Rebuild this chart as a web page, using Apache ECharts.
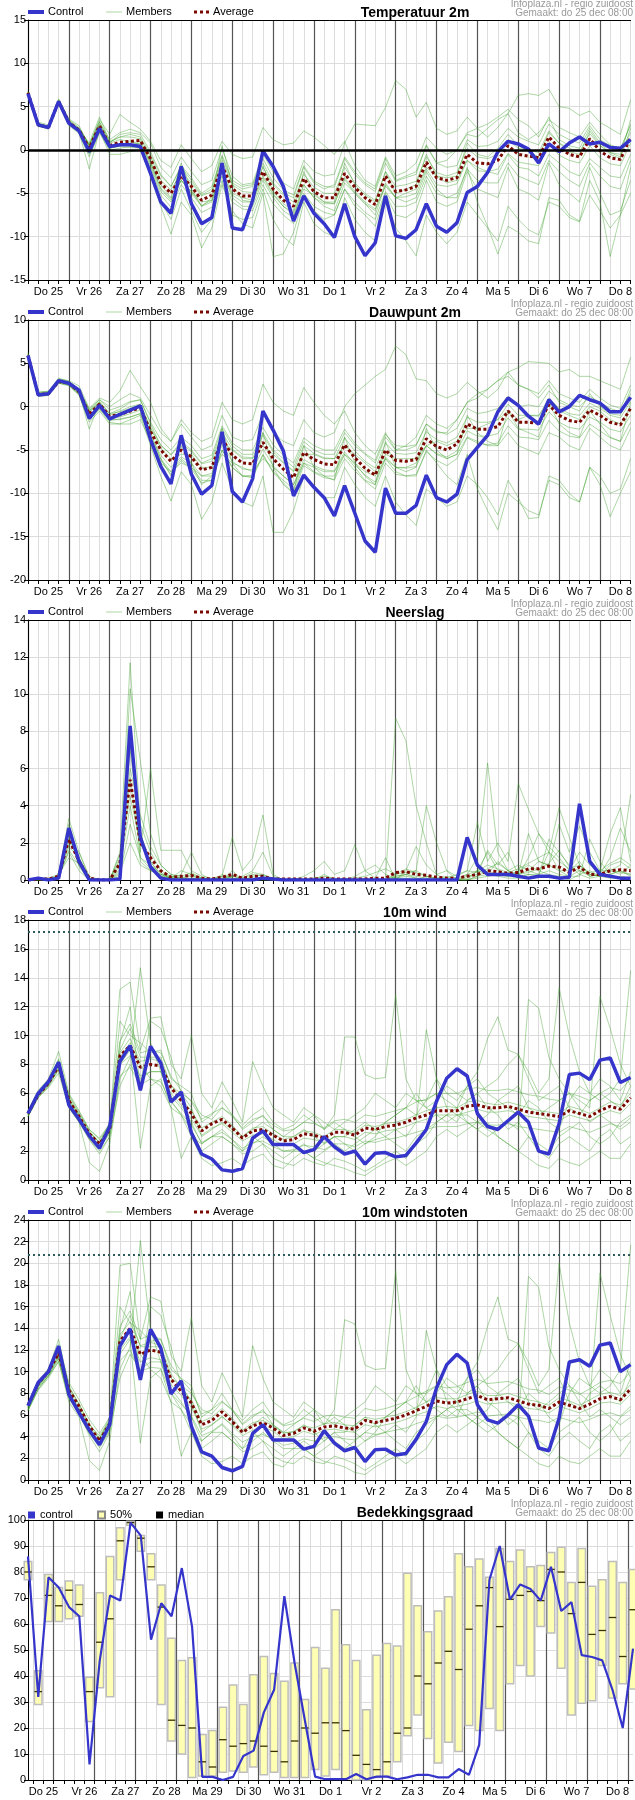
<!DOCTYPE html>
<html>
<head>
<meta charset="utf-8">
<script src="https://cdn.jsdelivr.net/npm/echarts@6.0.0/dist/echarts.min.js"></script>
<style>
html, body { margin: 0; padding: 0; background: #fff; }
#chart { width: 635px; height: 1800px; }
</style>
</head>
<body>
<div id="chart"></div>
<script>
// tick labels / categories
var days = ['Do 25', 'Vr 26', 'Za 27', 'Zo 28', 'Ma 29', 'Di 30', 'Wo 31', 'Do 1', 'Vr 2', 'Za 3', 'Zo 4', 'Ma 5', 'Di 6', 'Wo 7', 'Do 8'];
var steps = ['00', '06', '12', '18'];

// Temperatuur 2m
var tempControl = [6.5,2.9,2.6,5.6,3.1,2.2,-0.2,2.5,0.4,0.6,0.6,0.4,-2.7,-6.0,-7.3,-1.9,-6.2,-8.5,-7.8,-1.5,-9.0,-9.2,-5.8,-0.1,-1.9,-4.2,-8.2,-5.3,-7.3,-8.5,-10.1,-6.2,-10.0,-12.2,-10.7,-5.3,-9.9,-10.2,-9.2,-6.2,-8.8,-9.5,-8.4,-4.9,-4.2,-2.6,-0.2,1.0,0.7,0.1,-1.5,0.7,-0.2,0.8,1.5,0.7,0.9,0.3,0.2,1.2];
var tempAverage = [6.6,2.9,2.6,5.6,3.2,2.3,0.2,2.8,0.5,0.9,1.0,1.1,-1.0,-3.8,-5.0,-3.0,-4.2,-5.8,-5.2,-1.8,-4.5,-5.3,-5.3,-2.5,-4.5,-5.8,-6.5,-3.3,-4.8,-5.5,-5.5,-2.7,-4.3,-5.5,-6.3,-3.0,-4.8,-4.6,-4.2,-1.4,-3.2,-3.5,-3.2,-0.5,-1.5,-1.6,-1.2,0.5,-0.5,-0.7,-0.9,1.5,0.2,-0.5,-0.8,1.3,-0.1,-0.9,-1.1,1.5];
var tempMembers = [
  [6.8,3.1,2.7,5.8,3.5,2.6,0.6,3.2,1.2,2.0,2.4,2.0,0.8,-2.0,-3.2,-0.8,-2.5,-4.0,-3.5,0.2,-3.0,-4.0,-3.8,-0.5,-2.5,-3.8,-4.5,-1.2,-2.5,-3.0,-2.8,0.8,3.0,2.9,2.8,4.9,8.0,7.0,3.8,5.5,2.5,1.8,2.2,3.8,2.5,1.5,2.6,4.2,2.0,1.2,2.0,3.5,2.6,2.0,1.5,3.2,1.8,0.6,0.2,2.8],
  [6.4,2.8,2.4,5.3,2.8,1.9,-0.8,2.0,0.0,0.2,0.4,0.3,-2.5,-6.0,-8.0,-4.5,-7.0,-9.5,-8.0,-3.5,-7.5,-8.0,-7.8,-4.5,-8.0,-10.0,-11.0,-6.0,-8.5,-9.5,-10.0,-5.5,-8.0,-9.5,-10.5,-6.0,-9.0,-10.5,-12.2,-7.5,-9.5,-10.8,-9.5,-6.0,-7.5,-9.0,-10.5,-6.5,-8.0,-9.2,-9.8,-6.0,-6.5,-7.8,-8.3,-5.2,-7.0,-9.0,-7.5,-5.0],
  [6.7,3.2,2.9,5.9,3.6,2.8,0.5,3.5,1.8,4.1,3.2,2.4,1.0,-1.2,-2.0,0.6,-1.0,-2.5,-1.8,1.0,-0.5,-1.0,-0.8,2.6,1.2,0.6,0.8,2.2,1.5,0.5,-0.5,1.0,-1.8,-3.5,-4.2,-0.8,-3.0,-2.5,-1.5,1.5,0.2,-0.5,0.0,2.0,2.5,3.0,3.8,4.7,3.5,2.8,1.5,3.8,1.2,0.5,0.2,2.5,0.8,-0.3,-0.8,3.5],
  [6.5,2.7,2.5,5.5,3.0,2.0,-2.2,2.2,-0.5,-0.5,-0.2,0.0,-3.0,-6.5,-9.7,-6.0,-7.5,-11.3,-9.0,-4.0,-7.0,-8.5,-9.0,-5.0,-12.3,-12.0,-9.5,-5.5,-7.0,-8.0,-7.5,-4.5,-6.5,-7.5,-8.8,-5.0,-7.5,-7.8,-7.0,-3.5,-6.0,-6.5,-6.0,-2.5,-4.5,-5.0,-5.5,-2.0,-4.5,-5.0,-5.8,-1.5,-4.0,-5.0,-6.0,-2.0,-5.0,-7.5,-7.0,-3.5],
  [6.6,3.0,2.7,5.7,3.3,2.4,0.8,3.8,1.0,1.5,1.8,1.5,-0.5,-3.0,-4.2,-2.0,-3.5,-5.2,-4.5,-0.8,-3.8,-4.5,-4.2,-1.5,-3.8,-5.0,-5.5,-2.0,-3.8,-4.5,-4.0,-0.8,-2.5,-3.8,-4.5,-1.0,-3.5,-3.0,-2.5,0.5,-1.5,-1.2,0.0,1.8,1.5,2.5,3.5,4.2,6.3,6.5,6.3,7.0,5.0,4.8,4.0,4.5,3.2,2.5,1.8,5.8],
  [6.4,2.8,2.5,5.4,3.0,2.1,-0.5,2.4,0.2,0.5,0.6,0.8,-1.5,-4.5,-5.8,-3.5,-5.0,-6.5,-6.0,-2.5,-5.5,-6.5,-6.5,-3.5,-5.5,-7.0,-7.8,-4.0,-5.5,-6.5,-7.0,-3.8,-5.0,-6.2,-7.5,-4.0,-5.5,-6.0,-5.5,-2.5,-4.5,-5.5,-5.5,-2.0,-6.0,-8.8,-12.0,-8.8,-9.5,-10.5,-10.8,-5.5,-5.8,-7.5,-8.2,-3.5,-6.0,-12.3,-7.5,-2.0],
  [6.6,2.9,2.6,5.6,3.1,2.2,0.0,2.6,0.4,0.6,0.8,1.0,-1.2,-4.0,-5.5,-1.5,-4.5,-6.5,-5.5,0.5,-4.0,-5.8,-6.0,-1.8,-4.8,-6.2,-7.0,-2.5,-5.0,-6.0,-6.0,-1.5,-4.0,-5.2,-6.0,-2.5,-5.0,-4.5,-4.0,-0.5,-3.0,-3.2,-3.0,0.8,-0.5,-0.8,0.2,1.8,0.5,-0.2,-0.8,2.0,0.8,-0.2,-0.5,2.2,0.6,-0.5,-1.0,2.5],
  [6.7,3.0,2.6,5.6,3.2,2.3,0.3,2.9,0.8,1.2,1.0,0.6,-1.8,-4.8,-6.0,-3.5,-4.8,-6.0,-5.8,-2.0,-5.0,-5.5,-5.8,-3.0,-5.0,-6.5,-7.5,-4.5,-5.2,-6.0,-6.2,-3.2,-4.8,-6.0,-6.8,-4.2,-5.5,-5.0,-4.5,-2.0,-3.0,-3.8,-3.5,-1.2,-2.0,-2.5,-2.8,-0.5,-2.0,-2.2,-3.0,-0.5,-1.5,-2.5,-3.0,-1.0,-2.0,-3.0,-3.2,-0.5],
  [6.6,3.0,2.7,5.7,3.4,2.5,0.5,3.0,0.9,1.5,1.5,1.3,-0.8,-3.5,-4.6,-2.6,-3.8,-5.3,-4.8,-1.2,-4.0,-4.8,-4.9,-2.0,-4.0,-5.2,-6.0,-2.8,-4.3,-5.0,-5.0,-2.0,-3.8,-5.0,-5.8,-2.5,-4.2,-4.0,-3.6,-0.8,-2.6,-3.0,-2.6,0.2,-0.8,-1.0,-0.5,1.2,0.2,0.0,-0.3,2.2,0.8,0.2,-0.2,1.9,0.5,-0.3,-0.5,2.0],
  [6.5,2.8,2.5,5.5,3.0,2.1,-0.3,2.4,0.2,0.5,0.6,0.7,-1.5,-4.4,-5.6,-3.5,-4.8,-6.4,-5.8,-2.5,-5.2,-6.0,-6.0,-3.2,-5.2,-6.5,-7.2,-4.0,-5.5,-6.2,-6.2,-3.4,-5.0,-6.2,-7.0,-3.8,-5.5,-5.4,-5.0,-2.2,-4.0,-4.2,-3.9,-1.2,-2.4,-2.5,-2.2,-0.4,-1.4,-1.6,-1.8,0.6,-0.6,-1.2,-1.5,0.5,-0.9,-1.6,-1.8,0.8],
  [6.7,3.0,2.7,5.6,3.3,2.4,0.6,3.3,0.8,1.8,2.0,1.8,-0.2,-2.8,-4.2,-1.8,-3.2,-5.0,-4.2,-0.6,-3.5,-4.2,-4.0,-1.0,-3.2,-4.6,-5.2,-1.8,-3.6,-4.2,-4.3,-1.0,-2.8,-4.0,-4.8,-1.5,-3.6,-3.2,-2.8,0.6,-1.5,-2.0,-1.8,1.2,0.4,0.5,1.0,2.5,1.5,1.0,0.6,3.0,1.8,1.2,0.8,2.8,1.2,0.5,0.0,3.0],
  [6.5,2.8,2.5,5.5,3.0,2.2,0.0,2.6,0.3,0.4,0.3,0.2,-2.0,-5.2,-6.6,-4.0,-5.5,-7.2,-6.6,-3.0,-6.0,-6.8,-7.0,-4.0,-6.2,-7.5,-8.5,-5.0,-6.5,-7.2,-7.5,-4.5,-6.0,-7.2,-8.0,-4.8,-6.5,-6.5,-6.0,-3.0,-5.0,-5.5,-5.0,-2.2,-3.5,-3.8,-3.8,-1.5,-3.0,-3.5,-4.0,-1.2,-2.5,-3.5,-4.2,-1.5,-3.0,-4.2,-4.5,-1.2]
];

// Dauwpunt 2m
var dewControl = [5.9,1.35,1.5,3.0,2.7,1.9,-1.35,0.15,-1.4,-0.9,-0.4,0.1,-3.8,-6.9,-8.9,-3.3,-7.8,-10.1,-9.1,-2.9,-9.8,-11.0,-8.3,-0.5,-2.7,-5.1,-10.3,-7.9,-9.3,-10.5,-12.6,-9.1,-12.3,-15.5,-16.8,-9.4,-12.3,-12.3,-11.4,-7.9,-10.5,-11.0,-10.1,-6.1,-4.7,-3.3,-0.6,1.0,0.15,-1.1,-2.0,0.8,-0.6,0.0,1.3,0.8,0.4,-0.6,-0.6,1.1];
var dewAverage = [5.9,1.4,1.5,2.9,2.7,1.7,-0.9,0.3,-1.1,-0.9,-0.5,-0.1,-2.9,-5.0,-6.3,-5.0,-5.8,-7.3,-7.0,-3.7,-5.6,-6.5,-6.6,-4.1,-6.0,-7.2,-8.2,-5.3,-6.1,-6.6,-6.7,-4.4,-5.9,-7.1,-7.9,-5.0,-6.2,-6.3,-6.1,-3.7,-4.6,-5.0,-4.3,-2.0,-2.6,-2.6,-2.3,-0.5,-1.8,-1.8,-1.9,0.2,-1.0,-1.6,-1.8,-0.4,-1.0,-1.8,-2.1,-0.2];
var dewMembers = [
  [6.3,1.8,1.7,3.2,3.0,2.4,-0.2,1.0,0.5,1.8,4.2,2.3,0.5,-2.5,-4.0,-2.0,-3.5,-5.0,-4.5,-1.0,-3.5,-4.0,-3.8,-0.8,-3.0,-4.0,-4.5,-1.5,-3.0,-3.5,-3.0,0.0,1.5,2.5,3.5,4.3,7.0,6.0,3.2,3.0,1.5,1.0,1.5,2.8,1.8,1.0,2.0,4.0,2.5,2.0,1.5,3.0,1.5,1.0,0.5,2.0,1.0,0.2,-0.2,2.5],
  [5.7,1.2,1.3,2.7,2.4,1.3,-1.8,-0.5,-2.0,-2.0,-1.5,-1.0,-4.5,-8.0,-10.9,-7.5,-9.0,-13.0,-11.0,-6.5,-9.5,-11.0,-11.5,-8.0,-14.5,-14.5,-12.0,-8.0,-9.5,-10.5,-10.5,-7.0,-9.0,-10.5,-11.5,-8.0,-11.0,-12.5,-13.7,-9.5,-10.5,-11.5,-11.0,-8.0,-9.0,-10.5,-12.5,-8.5,-10.5,-12.9,-12.8,-8.0,-8.5,-10.0,-11.0,-7.0,-9.0,-12.7,-10.0,-7.5],
  [6.0,1.6,1.8,3.3,2.9,2.0,-0.5,0.8,0.0,0.8,1.5,1.0,-1.0,-3.0,-4.0,-1.5,-3.0,-4.0,-3.5,0.5,-1.5,-2.0,-1.5,2.6,0.5,-0.5,-1.0,2.2,0.5,-1.0,-2.0,-0.5,-3.0,-4.5,-5.5,-3.0,-5.0,-4.5,-3.5,-1.0,-2.0,-2.5,-1.5,0.5,1.5,2.0,3.0,3.5,2.5,2.0,1.0,2.5,0.5,0.0,-0.5,1.5,0.0,-0.8,-1.0,2.0],
  [5.9,1.5,1.5,3.0,2.8,1.8,-0.7,0.6,-0.8,-0.3,0.5,0.8,-2.0,-4.5,-5.5,-4.0,-5.0,-6.5,-6.0,-2.5,-4.5,-5.5,-5.5,-3.0,-5.0,-6.0,-7.0,-4.0,-5.0,-5.5,-5.5,-3.0,-4.5,-5.5,-6.5,-3.5,-5.0,-5.0,-4.5,-2.0,-3.0,-3.0,-1.5,0.5,1.0,2.0,3.0,4.0,4.5,5.2,5.1,5.0,4.0,4.3,3.5,3.5,3.0,2.5,2.0,5.7],
  [5.8,1.3,1.4,2.8,2.6,1.5,-1.2,0.0,-1.5,-1.5,-1.2,-0.8,-3.5,-6.0,-7.5,-6.0,-7.0,-8.5,-8.5,-5.0,-7.0,-8.0,-8.0,-5.5,-7.5,-8.5,-9.5,-6.5,-7.5,-8.0,-8.0,-5.5,-7.0,-8.5,-9.0,-6.0,-7.5,-8.0,-8.0,-5.0,-6.5,-8.0,-9.0,-5.5,-9.5,-12.0,-14.2,-10.0,-11.0,-12.0,-12.5,-8.5,-9.0,-10.5,-11.0,-7.0,-8.0,-10.0,-9.5,-6.0],
  [5.9,1.4,1.5,2.9,2.7,1.6,-2.6,0.5,-1.5,-1.0,-0.5,0.0,-3.0,-6.0,-8.0,-4.5,-6.5,-9.0,-8.0,-2.5,-6.5,-8.0,-8.0,-3.0,-7.0,-9.0,-10.0,-4.5,-7.0,-8.0,-8.5,-3.5,-6.5,-8.0,-9.0,-4.0,-7.0,-7.5,-7.0,-2.5,-5.0,-6.0,-5.5,-1.0,-3.0,-4.0,-4.5,-0.5,-2.5,-3.0,-3.5,0.5,-2.0,-3.0,-3.5,-0.5,-2.0,-3.5,-4.0,0.5],
  [6.0,1.5,1.6,3.0,2.8,1.9,-0.4,0.3,-1.0,-0.5,0.0,0.3,-2.5,-4.8,-6.0,-5.5,-5.5,-7.0,-7.0,-4.0,-5.0,-6.0,-6.0,-4.5,-5.5,-6.5,-7.5,-5.5,-5.5,-6.0,-6.0,-4.5,-5.5,-6.5,-7.5,-5.5,-6.0,-6.0,-6.0,-4.5,-4.0,-4.5,-4.0,-2.5,-2.5,-2.0,-1.5,-0.5,-1.5,-1.0,-1.0,0.5,-0.5,-1.0,-1.5,0.0,-0.5,-1.5,-2.0,0.0],
  [5.8,1.3,1.4,2.8,2.5,1.4,-1.5,-0.3,-1.8,-2.0,-2.0,-1.5,-4.0,-6.5,-7.5,-6.5,-7.0,-8.0,-8.0,-5.5,-6.5,-7.0,-7.5,-6.0,-7.0,-8.0,-9.0,-6.5,-7.0,-7.5,-7.5,-5.5,-6.5,-7.5,-8.0,-6.0,-7.0,-7.0,-6.5,-4.5,-5.5,-6.0,-5.5,-3.5,-4.0,-4.5,-4.5,-3.0,-4.5,-5.0,-5.5,-3.0,-3.5,-4.5,-5.0,-2.5,-3.5,-4.5,-5.0,-2.5],
  [6.0,1.5,1.6,3.0,2.8,1.8,-0.6,0.5,-0.8,-0.6,-0.2,0.2,-2.4,-4.4,-5.6,-4.2,-5.2,-6.6,-6.3,-3.0,-4.9,-5.8,-5.9,-3.3,-5.2,-6.4,-7.4,-4.5,-5.4,-5.9,-6.0,-3.6,-5.1,-6.3,-7.1,-4.2,-5.4,-5.5,-5.3,-2.9,-3.8,-4.2,-3.5,-1.2,-1.8,-1.8,-1.5,0.3,-1.0,-1.0,-1.1,1.0,-0.2,-0.8,-1.0,0.4,-0.2,-1.0,-1.3,0.6],
  [5.8,1.3,1.4,2.8,2.6,1.6,-1.1,0.1,-1.3,-1.2,-0.8,-0.4,-3.4,-5.6,-7.0,-5.8,-6.5,-8.0,-7.7,-4.4,-6.3,-7.2,-7.3,-4.9,-6.8,-8.0,-9.0,-6.1,-6.8,-7.3,-7.4,-5.2,-6.7,-7.9,-8.7,-5.8,-7.0,-7.1,-6.9,-4.5,-5.4,-5.8,-5.1,-2.8,-3.4,-3.4,-3.1,-1.3,-2.6,-2.6,-2.7,-0.6,-1.8,-2.4,-2.6,-1.2,-1.8,-2.6,-2.9,-1.0],
  [6.1,1.6,1.7,3.1,2.9,2.0,-0.3,0.8,-0.4,0.0,0.6,0.8,-1.8,-3.8,-5.0,-3.5,-4.5,-6.0,-5.6,-2.2,-4.2,-5.0,-5.0,-2.4,-4.4,-5.6,-6.5,-3.6,-4.5,-5.0,-5.0,-2.6,-4.2,-5.4,-6.2,-3.2,-4.5,-4.6,-4.4,-2.0,-2.8,-3.2,-2.5,-0.2,-0.8,-0.6,-0.2,1.2,0.0,0.2,0.0,1.8,0.8,0.2,0.0,1.2,0.5,-0.2,-0.6,1.5],
  [5.7,1.2,1.3,2.7,2.5,1.4,-1.3,-0.2,-1.6,-1.4,-1.2,-0.8,-3.8,-6.2,-7.8,-6.2,-7.2,-8.8,-8.5,-5.0,-7.0,-8.0,-8.2,-5.6,-7.6,-8.8,-10.0,-6.8,-7.6,-8.2,-8.4,-6.0,-7.4,-8.6,-9.5,-6.5,-7.8,-8.0,-7.8,-5.2,-6.2,-6.8,-6.0,-3.6,-4.2,-4.4,-4.2,-2.2,-3.5,-3.6,-3.8,-1.6,-2.8,-3.4,-3.6,-2.0,-2.8,-3.6,-4.0,-1.8]
];

// Neerslag
var rainControl = [0,0.1,0,0.1,2.8,1.0,0,0,0,0.05,8.3,2.3,0.7,0.1,0,0,0,0,0,0,0,0,0,0.1,0.05,0,0,0,0,0,0,0,0,0,0,0,0,0,0,0,0,0,0,2.3,0.8,0.3,0.3,0.3,0.2,0.1,0.2,0.2,0.1,0.15,4.1,1.0,0.3,0.2,0.1,0.1];
var rainAverage = [0,0.05,0.05,0.2,2.2,1.0,0.1,0,0,0.9,5.4,2.0,1.2,0.5,0.15,0.2,0.25,0.1,0.05,0.15,0.3,0.1,0.2,0.2,0.05,0.05,0.05,0.05,0.05,0.1,0.05,0.05,0.05,0.05,0.1,0.1,0.4,0.45,0.3,0.25,0.15,0.1,0.1,0.2,0.3,0.5,0.45,0.35,0.4,0.6,0.6,0.75,0.7,0.4,0.7,0.3,0.3,0.5,0.55,0.5];
var rainMembers = [
  [0,0.1,0.1,0.3,3.3,1.5,0.1,0,0,1.5,11.7,3.0,1.5,0.5,0.2,0.1,0.3,0,0,0.3,0.1,0,0.2,0.3,0,0,0.1,0,0,0.3,0,0,0.2,0.5,0.8,0.3,0.1,0,0,0.2,0,0,0,0.1,0.5,0.3,1.0,0.5,0.2,1.2,2.5,1.8,1.2,0.5,1.0,0.2,0.3,1.2,2.8,1.5],
  [0,0,0,0.2,1.8,1.2,0,0,0,0.5,10.3,6.4,2.5,0.8,0.3,0.1,0,0,0,0,0.5,0,0,0,0,0,0,0,0,0,0,0.1,0,0,0,0,8.7,7.5,4.0,2.0,0.3,0,0,0,0.2,0.5,0.3,0.2,0.5,0.8,0.5,0.3,0.2,0,0.3,0.5,0.2,0.8,1.0,0.6],
  [0,0.1,0,0.1,2.5,0.8,0,0,0,0.2,5.5,1.5,6.0,1.6,1.6,1.6,0.5,0.2,0.1,0.2,2.3,0.5,1.2,3.5,0.3,0,0,0,0,0,0,0,0,0.1,0,0,0.2,0.3,0.5,4.0,2.0,0.5,0,0.3,1.2,6.3,1.5,0.5,0.8,0.5,1.0,0.8,3.0,1.5,2.9,1.5,0.5,2.5,3.9,1.0],
  [0,0,0,0.2,2.0,1.5,0.2,0,0,1.0,8.0,1.0,0.5,0.3,0.1,0.5,0.3,0.1,0,0,0,0.2,0.5,1.5,0.2,0,0,0.2,0.5,1.0,0.3,0.5,1.9,0.5,0.1,1.2,0,0.5,1.8,0.8,0.3,0.5,0.2,0.5,3.1,1.0,2.0,1.0,5.2,3.8,2.5,1.5,0.5,0.5,1.5,0.8,0.5,0.5,0.8,4.6],
  [0,0.1,0,0.2,1.5,0.5,0,0,0,0.3,3.0,1.2,0.8,0.4,0.1,0,0.1,0,0,0.1,0,0,0,0,0,0,0,0,0,0,0,0,0,0,0,0,0.1,0.2,0.1,0,0,0,0,0,0.5,1.5,0.5,0.3,0.2,0.3,0.2,2.2,1.5,0.8,0.3,0.1,0.2,0.1,0.2,0.1],
  [0,0,0,0.1,3.0,1.0,0,0,0,1.4,4.5,2.0,1.0,0.2,0.1,0.3,1.5,0.3,0,0,0.2,0.1,0.3,0.2,0,0,0,0,0,0,0,0,0,0,0,0,0,0.1,0,0,0,0,0,0.2,0.3,1.6,0.8,1.5,0.3,0.5,0.3,1.5,3.9,2.3,0.8,0.3,0.2,0.5,0.3,0.8],
  [0,0,0,0.1,2.6,0.7,0,0,0,0.8,7.0,2.5,1.0,0.3,0.1,0.1,0.2,0.1,0,0.2,0.1,0,0,0.1,0,0,0,0,0,0,0,0,0,0,0,0,0.2,0.3,0.2,0.1,0,0,0,0,0.1,0.2,0.3,0.2,0.3,2.5,1.0,0.8,0.5,0.2,0.2,2.2,1.0,0.3,0.5,0.3],
  [0,0,0,0.3,1.2,0.9,0.1,0,0,0.4,2.0,0.8,0.5,0.3,0.2,0.1,0,0,0,0,0,0,0.1,0,0,0,0,0,0,0,0,0,0,0,0,0,0.1,0.3,0.1,0,0,0,0,0,0.2,0.3,0.2,0.1,0.1,0.3,0.3,0.5,0.3,0.2,0.5,0.3,0.2,0.3,0.5,0.2],
  [0,0.1,0,0.2,2.2,1.2,0.1,0,0,1.2,6.0,3.5,1.8,0.8,0.3,0.2,0.4,0.1,0,0.1,0.2,0.1,0.4,0.3,0.1,0,0,0,0.1,0.2,0.1,0,0.1,0.2,0.4,0.6,0.3,0.4,0.5,0.2,0.1,0.2,0.1,0.3,0.5,0.8,0.6,0.4,0.6,0.9,1.2,1.5,1.0,0.6,0.8,0.4,0.5,0.9,1.2,0.8],
  [0,0,0,0.1,1.6,0.8,0,0,0,0.6,4.0,1.2,0.6,0.2,0.1,0,0.1,0,0,0,0,0,0.1,0.1,0,0,0,0,0,0,0,0,0,0,0,0,0.3,0.6,0.4,0.2,0.1,0.1,0.3,0.5,0.4,0.6,0.9,0.5,0.3,0.4,0.6,0.9,1.6,0.7,0.5,0.2,0.3,0.6,0.4,0.3]
];

// 10m wind
var windControl = [4.6,6.0,6.8,8.15,5.2,4.2,3.05,2.2,3.7,8.2,9.3,6.2,9.25,8.1,5.4,6.1,3.25,1.8,1.45,0.7,0.6,0.8,2.9,3.4,2.45,2.45,2.45,1.9,2.1,3.0,2.3,1.8,2.0,1.1,1.85,1.9,1.6,1.7,2.55,3.5,5.45,7.05,7.7,7.2,4.6,3.7,3.5,4.1,4.7,4.0,2.0,1.8,3.9,7.3,7.4,6.95,8.3,8.45,6.75,7.1];
var windAverage = [4.6,5.9,6.7,7.9,5.5,4.4,3.2,2.5,3.5,8.6,9.3,7.8,8.0,7.9,6.4,5.5,4.6,3.4,3.9,4.2,3.6,2.9,3.4,3.5,3.1,2.7,2.8,3.2,3.1,2.9,3.3,3.3,3.1,3.6,3.5,3.7,3.8,4.0,4.3,4.5,4.8,4.8,4.8,5.1,5.2,5.0,5.0,5.1,4.9,4.7,4.6,4.5,4.4,4.8,4.6,4.4,4.8,5.1,4.9,5.7];
var windMembers = [
  [4.8,6.2,7.0,8.9,6.0,4.8,3.5,2.8,3.8,13.2,13.7,9.0,11.2,11.3,8.0,7.0,10.0,6.0,5.0,6.8,5.5,4.0,8.2,6.5,5.0,4.5,4.0,5.0,4.5,3.5,4.0,3.5,3.0,2.5,3.0,4.0,4.5,5.0,4.5,5.5,6.0,5.5,5.0,6.5,7.5,9.8,11.3,9.0,8.7,7.0,5.5,6.0,6.5,5.0,4.5,5.5,6.0,5.5,5.0,6.5],
  [4.4,5.7,6.5,7.6,5.0,4.0,1.2,0.6,2.5,7.0,8.5,14.7,9.5,7.5,5.5,4.5,3.5,2.0,2.5,3.0,2.5,1.8,2.0,2.5,1.5,1.2,1.0,1.5,1.2,1.0,1.5,1.3,1.0,0.6,1.0,1.5,2.0,1.5,2.5,3.0,4.0,4.5,4.0,5.5,6.0,5.0,4.5,3.5,4.0,3.0,2.0,1.5,2.5,3.0,2.5,2.0,3.0,3.5,2.5,3.0],
  [4.6,6.0,6.9,8.3,5.6,4.5,3.0,2.2,3.2,9.5,12.0,6.5,11.0,10.5,8.5,6.0,5.5,4.5,4.2,5.0,4.5,3.8,4.5,5.0,4.0,3.5,3.8,4.5,4.0,3.5,4.5,9.9,9.9,7.3,7.0,7.1,12.8,7.0,5.5,5.5,7.0,6.0,5.5,6.5,7.0,6.0,5.5,5.0,4.5,5.5,5.0,4.0,3.5,5.5,6.5,6.0,7.0,6.5,5.5,7.5],
  [4.5,5.8,6.6,7.8,5.3,4.3,3.3,2.6,4.0,8.0,9.0,2.2,6.5,7.0,5.0,1.5,3.0,2.5,3.0,3.5,2.8,2.0,3.0,2.5,2.0,1.5,2.0,2.5,2.0,2.5,3.0,2.5,2.0,2.5,2.8,3.0,3.5,3.0,4.0,10.4,7.0,5.0,4.5,4.0,3.5,3.0,3.5,4.0,3.5,12.5,11.9,8.5,7.0,6.0,5.0,4.0,4.5,4.0,3.5,4.0],
  [4.7,6.1,6.8,8.0,5.5,4.4,3.2,2.4,3.6,9.0,10.5,8.5,8.5,8.5,6.5,6.0,5.0,3.0,3.5,4.0,3.5,3.0,3.5,4.0,3.5,3.0,3.0,3.5,3.0,2.5,3.0,3.0,3.5,4.0,3.5,4.0,4.5,5.0,6.0,5.0,4.5,4.0,4.5,4.5,4.0,4.5,5.5,6.0,6.5,5.0,4.5,5.0,5.5,6.0,5.5,5.0,12.7,10.5,8.0,6.5],
  [4.5,5.9,6.7,7.9,5.2,4.2,2.8,1.8,3.0,6.5,8.0,7.0,7.5,7.5,5.8,5.0,4.0,2.5,3.0,3.0,2.5,2.0,2.5,3.0,2.5,2.0,2.0,2.0,1.5,1.2,1.0,0.8,0.5,0.3,0.8,1.2,1.5,1.0,1.5,2.0,3.0,3.5,3.0,3.5,4.0,3.5,3.0,2.5,2.0,1.5,1.0,0.8,1.5,1.2,1.0,1.5,2.0,1.5,1.5,2.5],
  [4.6,6.0,6.8,8.2,5.8,4.6,3.4,2.6,3.8,11.0,10.0,9.5,8.8,9.0,7.0,6.5,6.0,4.0,4.5,5.5,4.5,3.5,4.0,4.5,3.5,3.0,3.5,4.0,4.5,4.0,3.5,4.0,4.5,5.0,6.0,5.5,5.0,6.0,5.5,5.0,5.5,6.5,6.0,5.5,6.0,6.5,7.0,8.0,8.7,7.5,6.0,7.0,13.3,10.0,7.5,6.0,5.5,6.0,7.0,14.5],
  [4.4,5.8,6.6,7.7,5.4,4.3,3.1,2.3,3.4,8.5,9.5,8.0,7.0,6.5,5.0,4.5,3.0,1.5,1.0,1.2,1.5,1.0,1.5,1.8,1.0,0.8,1.5,2.0,1.5,2.0,2.5,2.0,2.5,3.0,3.5,3.0,2.5,2.0,3.0,3.5,4.0,4.5,5.0,4.0,3.5,4.0,3.0,2.5,2.0,3.0,2.5,2.0,3.0,3.5,4.0,3.0,2.5,3.0,4.0,4.5],
  [4.6,6.0,6.8,8.0,5.6,4.5,3.3,2.6,3.6,8.8,9.8,8.2,8.4,8.2,6.6,5.6,4.8,3.6,4.0,4.4,3.8,3.0,3.6,3.7,3.2,2.8,3.0,3.4,3.3,3.0,3.5,3.5,3.3,3.8,3.7,3.9,4.0,4.2,4.5,4.8,5.0,5.1,5.0,5.4,5.5,5.3,5.2,5.4,5.2,5.0,4.8,4.7,4.6,5.1,4.9,4.6,5.0,5.4,5.2,6.0],
  [4.5,5.8,6.5,7.7,5.3,4.2,3.0,2.3,3.3,8.0,8.6,7.2,7.5,7.5,6.0,5.2,4.2,3.1,3.6,3.9,3.3,2.7,3.1,3.2,2.8,2.4,2.5,2.9,2.8,2.6,3.0,3.0,2.8,3.3,3.2,3.4,3.5,3.7,4.0,4.2,4.5,4.5,4.5,4.7,4.9,4.7,4.7,4.8,4.6,4.4,4.3,4.2,4.1,4.5,4.3,4.1,4.5,4.8,4.6,5.3],
  [4.7,6.1,6.9,8.4,5.9,4.7,3.5,2.9,3.9,9.6,10.8,8.8,9.0,8.8,7.2,6.2,5.4,4.2,4.6,5.0,4.4,3.6,4.2,4.4,3.8,3.4,3.5,4.0,3.9,3.6,4.1,4.2,4.0,4.5,4.4,4.6,4.8,5.0,5.4,5.6,6.0,6.0,6.0,6.3,6.4,6.2,6.2,6.3,6.1,5.9,5.8,5.6,5.5,6.0,5.8,5.5,6.0,6.4,6.2,7.0],
  [4.4,5.7,6.4,7.4,5.0,4.0,2.8,2.0,3.0,7.2,7.8,6.6,7.0,6.8,5.4,4.6,3.8,2.6,3.0,3.3,2.8,2.2,2.6,2.7,2.3,2.0,2.1,2.4,2.3,2.1,2.5,2.5,2.3,2.7,2.6,2.8,2.9,3.1,3.3,3.5,3.7,3.7,3.7,3.9,4.0,3.8,3.8,3.9,3.7,3.6,3.5,3.4,3.3,3.7,3.5,3.3,3.6,3.9,3.7,4.3]
];
var windThreshold = 17.2;

// 10m windstoten
var gustControl = [6.85,9.0,10.0,12.35,7.9,6.2,4.6,3.25,5.1,12.35,13.95,9.25,13.9,12.2,7.95,9.15,4.95,2.6,2.2,1.15,0.85,1.25,4.3,5.1,3.7,3.7,3.7,2.85,3.1,4.55,3.4,2.7,3.0,1.7,2.8,2.85,2.3,2.45,3.75,5.4,8.5,10.65,11.6,10.8,6.95,5.55,5.25,6.0,6.95,5.9,2.95,2.7,5.7,10.9,11.1,10.5,12.45,12.65,10.0,10.65];
var gustAverage = [6.9,8.9,10.0,11.7,8.3,6.8,5.0,3.6,5.2,12.8,14.0,11.6,12.0,11.8,9.3,8.2,7.1,5.1,5.5,6.3,5.4,4.4,5.0,5.3,4.8,4.1,4.3,4.8,4.5,4.9,5.0,4.8,4.7,5.5,5.3,5.5,5.7,6.0,6.4,6.8,7.3,7.1,7.2,7.5,7.8,7.4,7.5,7.6,7.3,7.0,6.9,6.6,7.2,6.9,6.6,7.0,7.5,7.7,7.4,8.4];
var gustMembers = [
  [7.0,9.0,10.2,13.0,8.7,7.0,5.1,4.1,5.5,19.8,20.0,13.0,16.9,16.5,11.5,10.0,15.0,8.7,7.2,9.9,8.0,5.8,12.4,9.4,7.2,6.5,5.8,7.2,6.5,5.1,5.8,5.1,4.4,3.6,4.4,5.8,6.5,7.2,6.5,8.0,8.7,8.0,7.2,9.4,10.9,14.2,16.9,13.0,12.6,10.2,8.0,8.7,9.4,7.2,6.5,8.0,8.7,8.0,7.2,9.4],
  [6.4,8.3,9.4,11.0,7.2,5.8,1.8,0.9,3.6,10.2,12.3,22.1,13.8,10.9,8.0,6.5,5.1,2.9,3.6,4.4,3.6,2.6,2.9,3.6,2.2,1.7,1.5,2.2,1.7,1.5,2.2,1.9,1.5,0.9,1.5,2.2,2.9,2.2,3.6,4.4,5.8,6.5,5.8,8.0,8.7,7.2,6.5,5.1,5.8,4.4,2.9,2.2,3.6,4.4,3.6,2.9,4.4,5.1,3.6,4.4],
  [6.7,8.7,10.0,12.0,8.1,6.5,4.4,3.2,4.6,13.8,17.4,9.4,16.0,15.2,12.3,8.7,8.0,6.5,6.1,7.2,6.5,5.5,6.5,7.2,5.8,5.1,5.5,6.5,5.8,5.1,6.5,14.8,14.4,10.6,10.2,10.3,19.3,10.2,8.0,8.0,10.2,8.7,8.0,9.4,10.2,8.7,8.0,7.2,6.5,8.0,7.2,5.8,5.1,8.0,9.4,8.7,10.2,9.4,8.0,10.9],
  [6.5,8.4,9.6,11.3,7.7,6.2,4.8,3.8,5.8,11.6,13.0,3.4,9.4,10.2,7.2,2.2,4.4,3.6,4.4,5.1,4.1,2.9,4.4,3.6,2.9,2.2,2.9,3.6,2.9,3.6,4.4,3.6,2.9,3.6,4.1,4.4,5.1,4.4,5.8,13.8,10.2,7.2,6.5,5.8,5.1,4.4,5.1,5.8,5.1,18.8,17.8,12.3,10.2,8.7,7.2,5.8,6.5,5.8,5.1,5.8],
  [6.8,8.8,9.9,11.6,8.0,6.4,4.6,3.5,5.2,13.0,15.2,12.3,12.3,12.3,9.4,8.7,7.2,4.4,5.1,5.8,5.1,4.4,5.1,5.8,5.1,4.4,4.4,5.1,4.4,3.6,4.4,4.4,5.1,5.8,5.1,5.8,6.5,7.2,8.7,7.2,6.5,5.8,6.5,6.5,5.8,6.5,8.0,8.7,9.4,7.2,6.5,7.2,8.0,8.7,8.0,7.2,19.1,15.2,11.6,9.4],
  [6.5,8.6,9.7,11.5,7.5,6.1,4.1,2.6,4.4,9.4,11.6,10.2,10.9,10.9,8.4,7.2,5.8,3.6,4.4,4.4,3.6,2.9,3.6,4.4,3.6,2.9,2.9,2.9,2.2,1.7,1.5,1.2,0.7,0.5,1.2,1.7,2.2,1.5,2.2,2.9,4.4,5.1,4.4,5.1,5.8,5.1,4.4,3.6,2.9,2.2,1.5,1.2,2.2,1.7,1.5,2.2,2.9,2.2,2.2,3.6],
  [6.7,8.7,9.9,11.9,8.4,6.7,4.9,3.8,5.5,16.0,14.5,13.8,12.8,13.0,10.2,9.4,8.7,5.8,6.5,8.0,6.5,5.1,5.8,6.5,5.1,4.4,5.1,5.8,6.5,5.8,5.1,5.8,6.5,7.2,8.7,8.0,7.2,8.7,8.0,7.2,8.0,9.4,8.7,8.0,8.7,9.4,10.2,11.6,12.6,10.9,8.7,10.2,20.0,14.5,10.9,8.7,8.0,8.7,10.2,21.7],
  [6.4,8.4,9.6,11.2,7.8,6.2,4.5,3.3,4.9,12.3,13.8,11.6,10.2,9.4,7.2,6.5,4.4,2.2,1.5,1.7,2.2,1.5,2.2,2.6,1.5,1.2,2.2,2.9,2.2,2.9,3.6,2.9,3.6,4.4,5.1,4.4,3.6,2.9,4.4,5.1,5.8,6.5,7.2,5.8,5.1,5.8,4.4,3.6,2.9,4.4,3.6,2.9,4.4,5.1,5.8,4.4,3.6,4.4,5.8,6.5],
  [6.9,9.0,10.1,11.9,8.6,7.0,5.2,3.9,5.3,13.4,14.6,12.4,12.7,12.4,9.8,8.5,7.4,5.4,5.8,6.6,5.7,4.6,5.3,5.5,5.0,4.3,4.5,5.0,4.8,5.2,5.3,5.1,5.0,5.8,5.6,5.8,6.0,6.3,6.7,7.2,7.6,7.5,7.5,7.9,8.2,7.8,7.8,8.0,7.7,7.4,7.2,6.9,7.6,7.3,6.9,7.4,7.9,8.1,7.8,8.8],
  [6.8,8.7,9.8,11.4,8.0,6.5,4.7,3.3,4.9,12.0,13.2,10.9,11.3,11.1,8.8,7.8,6.7,4.7,5.1,5.9,5.0,4.1,4.6,4.9,4.5,3.8,4.0,4.5,4.2,4.6,4.7,4.5,4.4,5.1,4.9,5.1,5.3,5.6,6.0,6.3,6.8,6.6,6.8,7.0,7.3,7.0,7.1,7.2,6.9,6.6,6.5,6.2,6.8,6.5,6.2,6.6,7.1,7.2,7.0,7.9],
  [7.0,9.1,10.3,12.5,9.0,7.4,5.6,4.3,5.8,14.2,15.6,13.0,13.4,13.0,10.6,9.3,8.2,6.1,6.5,7.3,6.4,5.2,6.0,6.3,5.7,5.0,5.2,5.7,5.4,5.9,6.0,5.8,5.7,6.6,6.4,6.6,6.9,7.2,7.7,8.2,8.7,8.5,8.6,9.0,9.3,8.9,9.0,9.1,8.8,8.4,8.3,7.9,8.6,8.3,7.9,8.4,9.0,9.2,8.9,10.0],
  [6.6,8.6,9.6,10.9,7.6,6.1,4.3,3.0,4.5,11.0,12.0,10.0,10.4,10.3,8.0,7.0,5.9,4.1,4.5,5.2,4.3,3.5,4.0,4.2,3.8,3.2,3.4,3.8,3.6,3.9,4.0,3.8,3.7,4.4,4.2,4.4,4.6,4.8,5.2,5.5,5.9,5.7,5.8,6.0,6.3,5.9,6.0,6.1,5.8,5.6,5.5,5.3,5.8,5.5,5.3,5.6,6.0,6.2,5.9,6.8]
];
var gustThreshold = 20.8;

// Bedekkingsgraad
var cloudControl = [86,32,78,74,66.5,63,6,46,71,69,99,94,54,68,63,81.5,59,1.2,1.2,0,1.2,9.2,11.3,26,34.7,70.7,45,23,1.3,0.3,0.3,0.3,2.3,0.3,1.3,1.3,0.3,1,2,2,1,1,4.2,2,13.5,77,90,69.4,75.2,73.5,69,82,65,68.4,48,47.3,46,34.7,20,50.5];
var cloudLow = [77,29,61,61,62,63,22.5,35.5,32,77,98,88,77,29,15,10,1,1.5,1.5,3,3.5,3,5,2,3,1,1,1,4,1.5,4,0.5,0,0,1,1.5,7,17,25,16,6.5,14.5,11,21,19,27.5,19,37,44,40,59,56.5,43,25,29.5,30.5,44,31.5,37,35];
var cloudHigh = [84,42,79,74,76.5,75,39.5,72,86,97,99.5,94,87,75,54.5,46,47,17.5,19,28,36.5,29,40.5,47.5,41,38,45,31,51,43,65.5,52,46,27,48,52.5,51.5,79.5,67,57,65,70.5,87,82,85,78,89,84,88.5,82,82.5,87.5,89.5,76,89,74.5,77,84,76,81];
var cloudMedian = [80,34,71,67,73,67.5,34,53,62,92,99,93,82,66.5,23,21,20,7,5,15.5,13,14,15,13,11,7,15,20,18,22,22,19,9.5,6,4,7,18,20,40,37,45,49.5,42.5,58,67,74,59,69.5,71,72.5,69,81,80,64,76,56,57.5,62.5,47.5,65.5];

var FONT = '"Liberation Sans", Arial, sans-serif';
var PANEL_H = 300;
var GRID_LEFT = 28;
var GRID_W = 605;
var CONTROL_COLOR = '#3535cc';
var AVG_COLOR = '#7a0a00';
var MEMBER_COLOR = 'rgba(60,160,40,0.42)';
var DOTS_ICON = 'path://M0,0h3v3h-3zM6,0h3v3h-3zM12,0h3v3h-3z';

// 6-hourly categories
var cats = [];
days.forEach(function (d) {
    steps.forEach(function (s) { cats.push(d + ' ' + s); });
});
// half-step categories for the cloud panel (bars sit on even slots)
var halfCats = [];
for (var j = 0; j < cats.length * 2 - 1; j++) {
    halfCats.push(j % 2 === 0 ? cats[j / 2] : cats[(j - 1) / 2] + '+3');
}

var grids = [], xAxes = [], yAxes = [], series = [], legends = [], graphics = [];

function addHeader(k, title) {
    var top = k * PANEL_H;
    graphics.push({
        type: 'text', x: 415, y: top + 13,
        style: { text: title, font: 'bold 14px ' + FONT, fill: '#000', textAlign: 'center', textVerticalAlign: 'middle', align: 'center', verticalAlign: 'middle' }
    });
    graphics.push({
        type: 'text', x: 633, y: top + 4,
        style: { text: 'Infoplaza.nl - regio zuidoost', font: '10px ' + FONT, fill: '#999', textAlign: 'right', textVerticalAlign: 'middle', align: 'right', verticalAlign: 'middle' }
    });
    graphics.push({
        type: 'text', x: 633, y: top + 13.5,
        style: { text: 'Gemaakt: do 25 dec 08:00', font: '10px ' + FONT, fill: '#999', textAlign: 'right', textVerticalAlign: 'middle', align: 'right', verticalAlign: 'middle' }
    });
}

function addLegend(top, left, item, w, h) {
    legends.push({
        left: left, top: top, itemWidth: w, itemHeight: h, padding: 0,
        selectedMode: false,
        textStyle: { fontSize: 11, color: '#000', fontFamily: FONT, padding: [0, 0, 0, -1] },
        data: [item]
    });
}

function addYAxis(k, min, max, interval) {
    yAxes.push({
        type: 'value', gridIndex: k, min: min, max: max, interval: interval,
        axisLine: { show: true, onZero: false, lineStyle: { color: '#000' } },
        axisTick: { show: true, length: 4, lineStyle: { color: '#000' } },
        axisLabel: { fontSize: 11, color: '#000', margin: 2, fontFamily: FONT },
        splitLine: { show: true, lineStyle: { color: '#dcdcdc' } }
    });
    return yAxes.length - 1;
}

function addLinePanel(k, p) {
    var top = k * PANEL_H;
    grids.push({ left: GRID_LEFT, top: top + 20, width: GRID_W, height: 260 });
    var xa = xAxes.length;
    xAxes.push({
        type: 'category', gridIndex: k, data: cats, boundaryGap: false,
        axisLine: { onZero: false, lineStyle: { color: '#000' } },
        axisTick: { interval: 0, length: 4, lineStyle: { color: '#000' } },
        axisLabel: {
            interval: function (i) { return i % 4 === 2; },
            formatter: function (v, i) { return days[Math.floor(i / 4)]; },
            fontSize: 11, color: '#000', margin: 6, fontFamily: FONT
        },
        splitLine: { show: true, interval: 0, lineStyle: { color: '#dcdcdc' } }
    });
    xAxes.push({
        type: 'category', gridIndex: k, data: cats, boundaryGap: false, position: 'top',
        axisLine: { onZero: false, lineStyle: { color: '#000' } },
        axisTick: { show: false }, axisLabel: { show: false },
        splitLine: { show: true, interval: function (i) { return i % 4 === 0; }, lineStyle: { color: '#555', width: 1.2 } }
    });
    var ya = addYAxis(k, p.min, p.max, p.interval);

    p.members.forEach(function (m, n) {
        var s = {
            name: 'Members', type: 'line', xAxisIndex: xa, yAxisIndex: ya, data: m,
            symbol: 'none', silent: true, z: 2,
            lineStyle: { color: MEMBER_COLOR, width: 1 }, itemStyle: { color: MEMBER_COLOR }
        };
        if (n === 0 && p.refLine) {
            s.markLine = {
                silent: true, symbol: 'none', label: { show: false },
                data: [{ yAxis: p.refLine.value }],
                lineStyle: p.refLine.style
            };
        }
        series.push(s);
    });
    series.push({
        name: 'Average', type: 'line', xAxisIndex: xa, yAxisIndex: ya, data: p.average,
        symbol: 'none', z: 3,
        lineStyle: { color: AVG_COLOR, width: 3, type: [3, 2.5] }, itemStyle: { color: AVG_COLOR }
    });
    series.push({
        name: 'Control', type: 'line', xAxisIndex: xa, yAxisIndex: ya, data: p.control,
        symbol: 'none', z: 4,
        lineStyle: { color: CONTROL_COLOR, width: 3.5 }, itemStyle: { color: CONTROL_COLOR }
    });

    addLegend(top + 6.5, GRID_LEFT, { name: 'Control', icon: 'rect' }, 16, 4);
    addLegend(top + 6.5, 106, { name: 'Members', icon: 'rect' }, 16, 1);
    addLegend(top + 6.5, 194, { name: 'Average', icon: DOTS_ICON }, 15, 3);
    addHeader(k, p.title);
}

function addCloudPanel(k) {
    var top = k * PANEL_H;
    grids.push({ left: GRID_LEFT, top: top + 20, width: GRID_W, height: 260 });
    var xa = xAxes.length;
    xAxes.push({
        type: 'category', gridIndex: k, data: halfCats, boundaryGap: false,
        axisLine: { onZero: false, lineStyle: { color: '#000' } },
        axisTick: { interval: function (j) { return j % 2 === 1; }, length: 4, lineStyle: { color: '#000' } },
        axisLabel: {
            interval: function (j) { return j % 8 === 3; },
            formatter: function (v, j) { return days[Math.floor(j / 8)]; },
            fontSize: 11, color: '#000', margin: 6, fontFamily: FONT
        },
        splitLine: { show: true, interval: function (j) { return j % 2 === 1; }, lineStyle: { color: '#dcdcdc' } }
    });
    xAxes.push({
        type: 'category', gridIndex: k, data: halfCats, boundaryGap: false, position: 'top',
        axisLine: { onZero: false, lineStyle: { color: '#000' } },
        axisTick: { show: false }, axisLabel: { show: false },
        splitLine: { show: true, interval: function (j) { return j % 8 === 5; }, lineStyle: { color: '#555', width: 1.2 } }
    });
    var ya = addYAxis(k, 0, 100, 10);

    var boxData = cloudLow.map(function (v, i) { return [2 * i, v, cloudHigh[i]]; });
    var medData = cloudMedian.map(function (v, i) { return [2 * i, v]; });
    var ctrlData = cloudControl.map(function (v, i) { return [2 * i, v]; });
    var BOX_W = 7.5;

    series.push({
        name: '50%', type: 'custom', xAxisIndex: xa, yAxisIndex: ya, data: boxData,
        encode: { x: 0, y: [1, 2] }, z: 2, silent: true,
        itemStyle: { color: '#ffffb4', borderColor: '#888', borderWidth: 1 },
        renderItem: function (params, api) {
            var lo = api.coord([api.value(0), api.value(1)]);
            var hi = api.coord([api.value(0), api.value(2)]);
            return {
                type: 'rect',
                shape: { x: lo[0] - BOX_W / 2, y: hi[1], width: BOX_W, height: lo[1] - hi[1] },
                style: { fill: '#ffffb4', stroke: '#bdbdbd', lineWidth: 1.5 }
            };
        }
    });
    series.push({
        name: 'median', type: 'custom', xAxisIndex: xa, yAxisIndex: ya, data: medData,
        encode: { x: 0, y: 1 }, z: 3, silent: true,
        itemStyle: { color: '#000' },
        renderItem: function (params, api) {
            var c = api.coord([api.value(0), api.value(1)]);
            return {
                type: 'line',
                shape: { x1: c[0] - BOX_W / 2, y1: c[1], x2: c[0] + BOX_W / 2, y2: c[1] },
                style: { stroke: '#3a3000', lineWidth: 1.3 }
            };
        }
    });
    series.push({
        name: 'control', type: 'line', xAxisIndex: xa, yAxisIndex: ya, data: ctrlData,
        symbol: 'none', z: 4,
        lineStyle: { color: CONTROL_COLOR, width: 2.2 }, itemStyle: { color: CONTROL_COLOR }
    });

    legends.push({
        left: GRID_LEFT, top: top + 9.5, itemWidth: 7, itemHeight: 7, itemGap: 24, padding: 0,
        selectedMode: false,
        textStyle: { fontSize: 11, color: '#000', fontFamily: FONT },
        data: [{ name: 'control', icon: 'rect' }, { name: '50%', icon: 'rect' }, { name: 'median', icon: 'rect' }]
    });
    addHeader(k, 'Bedekkingsgraad');
}

addLinePanel(0, {
    title: 'Temperatuur 2m', min: -15, max: 15, interval: 5,
    control: tempControl, average: tempAverage, members: tempMembers,
    refLine: { value: 0, style: { color: '#000', width: 2.5, type: 'solid' } }
});
addLinePanel(1, {
    title: 'Dauwpunt 2m', min: -20, max: 10, interval: 5,
    control: dewControl, average: dewAverage, members: dewMembers
});
addLinePanel(2, {
    title: 'Neerslag', min: 0, max: 14, interval: 2,
    control: rainControl, average: rainAverage, members: rainMembers
});
addLinePanel(3, {
    title: '10m wind', min: 0, max: 18, interval: 2,
    control: windControl, average: windAverage, members: windMembers,
    refLine: { value: windThreshold, style: { color: '#2c5c5c', width: 2, type: [2, 3] } }
});
addLinePanel(4, {
    title: '10m windstoten', min: 0, max: 24, interval: 2,
    control: gustControl, average: gustAverage, members: gustMembers,
    refLine: { value: gustThreshold, style: { color: '#2c5c5c', width: 2, type: [2, 3] } }
});
addCloudPanel(5);

var chart = echarts.init(document.getElementById('chart'));
chart.setOption({
    animation: false,
    textStyle: { fontFamily: FONT },
    grid: grids,
    xAxis: xAxes,
    yAxis: yAxes,
    legend: legends,
    graphic: graphics,
    series: series
});
</script>
</body>
</html>
